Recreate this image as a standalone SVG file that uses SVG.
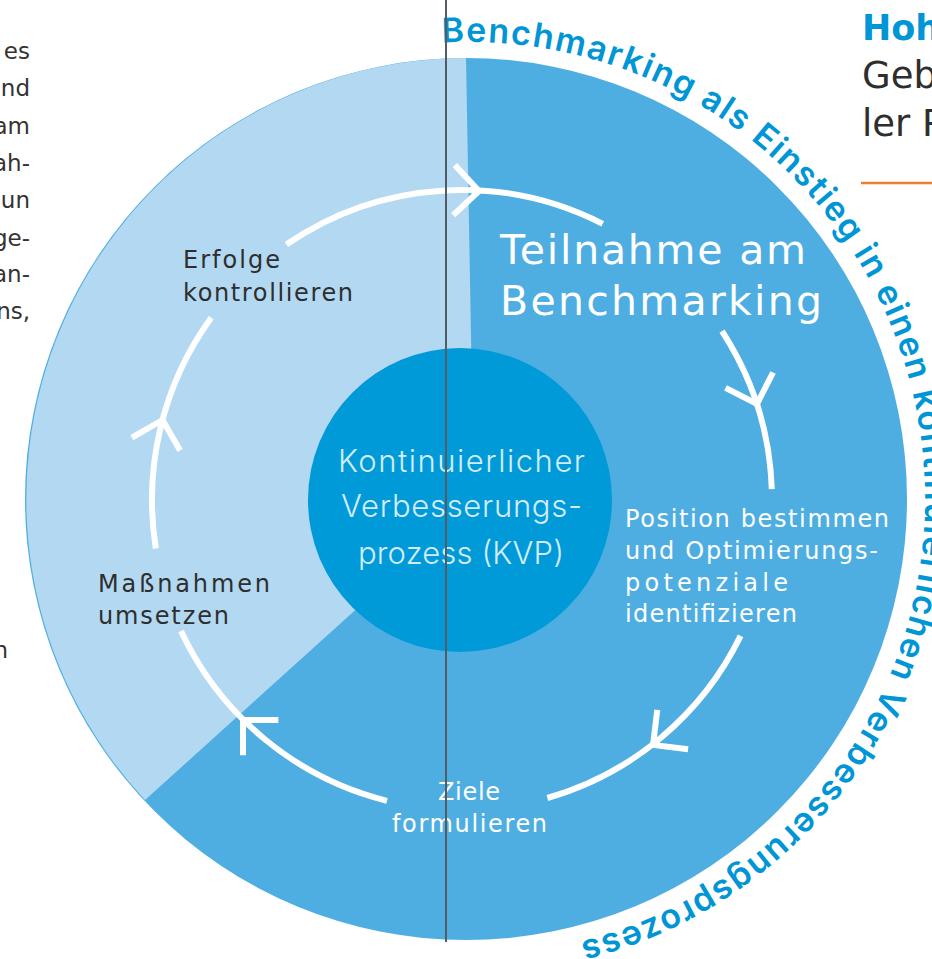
<svg xmlns="http://www.w3.org/2000/svg" xmlns:xlink="http://www.w3.org/1999/xlink" width="932" height="959" viewBox="0 0 932 959">
<style>
.f{font-family:'DejaVu Sans','Noto Sans',sans-serif}
.dark{fill:#2e2e2e;font-size:24px}
.wht{fill:#ffffff;font-size:24px}
.big{fill:#ffffff;font-size:41px}
.kvp{font-family:Inter,'DejaVu Sans',sans-serif;fill:#d3ecf9;font-size:31px;font-weight:300}
.frag{fill:#333333;font-size:23px}
.arc{fill:none;stroke:#ffffff;stroke-width:6;stroke-linecap:butt}
</style>
<defs>
<path id="chev" d="M-25,-25 L0,0 L-25,25" fill="none" stroke="#ffffff" stroke-width="6"/>
<path id="ring" d="M442.1,42.6 A457,457 0 0 1 505.8,954.3"/>
</defs>
<rect width="932" height="959" fill="#ffffff"/>
<g id="background">
<circle cx="466" cy="499" r="441" fill="#4eaee2"/>
<path d="M474,503 L466,58 A441,441 0 0 0 145,800 Z" fill="#b3d8f2"/>
</g>
<g id="kvp">
<circle cx="460" cy="500" r="152" fill="#009ad9"/>
<text class="kvp" x="338" y="472" textLength="247" lengthAdjust="spacing">Kontinuierlicher</text>
<text class="kvp" x="341" y="517" textLength="241" lengthAdjust="spacing">Verbesserungs-</text>
<text class="kvp" x="358" y="564" textLength="206" lengthAdjust="spacing">prozess (KVP)</text>
</g>
<g id="connectors">
<path class="arc" d="M286.4,244.5 A310,310 0 0 1 602.7,223.8"/>
<path class="arc" d="M722.0,331.2 A310,310 0 0 1 771.8,489.2"/>
<path class="arc" d="M740.6,635.9 A310,310 0 0 1 547.4,798.0"/>
<path class="arc" d="M387.0,800.8 A310,310 0 0 1 181.0,631.0"/>
<path class="arc" d="M155.8,548.5 A310,310 0 0 1 211.2,317.8"/>
<use xlink:href="#chev" transform="translate(479,191) rotate(2)"/>
<use xlink:href="#chev" transform="translate(757,404) rotate(72)"/>
<use xlink:href="#chev" transform="translate(653,745) rotate(142)"/>
<use xlink:href="#chev" transform="translate(243,720) rotate(225)"/>
<use xlink:href="#chev" transform="translate(162.5,420) rotate(285)"/>
</g>
<g id="step-teilnahme">
<text class="f big" x="500" y="264" textLength="306" lengthAdjust="spacing">Teilnahme am</text>
<text class="f big" x="500" y="315" textLength="322" lengthAdjust="spacing">Benchmarking</text>
</g>
<g id="step-position">
<text class="f wht" x="625" y="527" textLength="264" lengthAdjust="spacing">Position bestimmen</text>
<text class="f wht" x="625" y="559" textLength="253" lengthAdjust="spacing">und Optimierungs-</text>
<text class="f wht" x="625" y="591" textLength="163" lengthAdjust="spacing">potenziale</text>
<text class="f wht" x="625" y="622" textLength="172" lengthAdjust="spacing">identifizieren</text>
</g>
<g id="step-ziele">
<text class="f wht" x="438" y="800" textLength="62" lengthAdjust="spacing">Ziele</text>
<text class="f wht" x="392" y="832" textLength="155" lengthAdjust="spacing">formulieren</text>
</g>
<g id="step-massnahmen">
<text class="f dark" x="98" y="592" textLength="172" lengthAdjust="spacing">Maßnahmen</text>
<text class="f dark" x="98" y="624" textLength="131" lengthAdjust="spacing">umsetzen</text>
</g>
<g id="step-erfolge">
<text class="f dark" x="183" y="268" textLength="97" lengthAdjust="spacing">Erfolge</text>
<text class="f dark" x="183" y="301" textLength="170" lengthAdjust="spacing">kontrollieren</text>
</g>
<g id="ring-label">
<text font-family="Inter,'DejaVu Sans',sans-serif" fill="#0096d6" font-size="34" font-weight="600"><textPath xlink:href="#ring" textLength="1348" lengthAdjust="spacing">Benchmarking als Einstieg in einen kontinuierlichen Verbesserungsprozess</textPath></text>
</g>
<g id="divider">
<line x1="446" y1="0" x2="446" y2="942" stroke="#545b63" stroke-width="2"/>
</g>
<g id="side-text-left">
<text class="f frag" x="30" y="59" text-anchor="end">es</text>
<text class="f frag" x="30" y="96" text-anchor="end">nd</text>
<text class="f frag" x="30" y="134" text-anchor="end">am</text>
<text class="f frag" x="30" y="171" text-anchor="end">ah-</text>
<text class="f frag" x="30" y="208" text-anchor="end">un</text>
<text class="f frag" x="30" y="246" text-anchor="end">ge-</text>
<text class="f frag" x="30" y="282" text-anchor="end">an-</text>
<text class="f frag" x="30" y="319" text-anchor="end">ns,</text>
<text class="f frag" x="8" y="658" text-anchor="end">n</text>
</g>
<g id="side-text-right">
<text class="f" x="862" y="40" fill="#0096d6" font-size="35" font-weight="700">Hoh</text>
<text class="f" x="862" y="88" fill="#2e2e2e" font-size="37">Geb</text>
<text class="f" x="862" y="136" fill="#2e2e2e" font-size="37">ler P</text>
<line x1="861" y1="183" x2="932" y2="183" stroke="#ee7f2d" stroke-width="2.5"/>
</g>
</svg>
